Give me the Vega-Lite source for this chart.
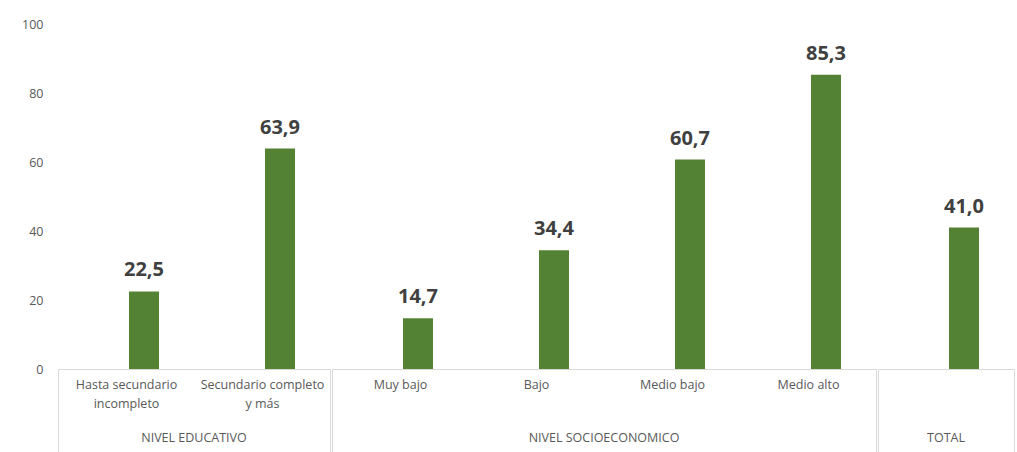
{
  "$schema": "https://vega.github.io/schema/vega-lite/v6.json",
  "background": "white",
  "padding": {"left": 17, "top": 18, "right": 0, "bottom": 0},
  "data": {
    "values": [
      {"grupo": "NIVEL EDUCATIVO", "cat": "Hasta secundario incompleto", "valor": 22.5},
      {"grupo": "NIVEL EDUCATIVO", "cat": "Secundario completo y más", "valor": 63.9},
      {"grupo": "NIVEL SOCIOECONOMICO", "cat": "Muy bajo", "valor": 14.7},
      {"grupo": "NIVEL SOCIOECONOMICO", "cat": "Bajo", "valor": 34.4},
      {"grupo": "NIVEL SOCIOECONOMICO", "cat": "Medio bajo", "valor": 60.7},
      {"grupo": "NIVEL SOCIOECONOMICO", "cat": "Medio alto", "valor": 85.3},
      {"grupo": "TOTAL", "cat": "TOTAL", "valor": 41.0}
    ]
  },
  "facet": {
    "column": {
      "field": "grupo",
      "type": "nominal",
      "sort": ["NIVEL EDUCATIVO", "NIVEL SOCIOECONOMICO", "TOTAL"],
      "title": null,
      "header": {
        "labelOrient": "bottom",
        "labelPadding": -23,
        "labelFont": "Open Sans",
        "labelFontSize": 12.5,
        "labelColor": "#595959"
      }
    }
  },
  "spacing": 0,
  "resolve": {"scale": {"x": "independent"}},
  "spec": {
    "width": {"step": 136},
    "height": 345,
    "encoding": {
      "x": {
        "field": "cat",
        "type": "nominal",
        "sort": null,
        "scale": {"paddingInner": 0, "paddingOuter": 0},
        "axis": {
          "title": null,
          "labelAngle": 0,
          "labelFont": "Open Sans",
          "labelFontSize": 12.5,
          "labelColor": "#595959",
          "labelLineHeight": 19,
          "labelLimit": 300,
          "labelPadding": -76,
          "labelExpr": "datum.value == 'Hasta secundario incompleto' ? ['Hasta secundario', 'incompleto'] : datum.value == 'Secundario completo y más' ? ['Secundario completo', 'y más'] : datum.value == 'TOTAL' ? '' : datum.value",
          "domainColor": "#d9d9d9",
          "tickColor": "#d9d9d9",
          "tickBand": "extent",
          "tickSize": 85,
          "tickOpacity": {
            "condition": {"test": "datum.index < 0 || datum.value == 'Secundario completo y más' || datum.value == 'Medio alto' || datum.value == 'TOTAL'", "value": 1},
            "value": 0
          }
        }
      },
      "y": {
        "field": "valor",
        "type": "quantitative",
        "scale": {"domain": [0, 100]},
        "axis": {
          "title": null,
          "values": [0, 20, 40, 60, 80, 100],
          "grid": false,
          "domain": false,
          "ticks": false,
          "labelPadding": 14,
          "labelFont": "Open Sans",
          "labelFontSize": 12.5,
          "labelColor": "#595959",
          "minExtent": 40,
          "maxExtent": 40
        }
      }
    },
    "layer": [
      {
        "mark": {"type": "bar", "width": 30, "xOffset": 18, "color": "#548235"}
      },
      {
        "mark": {
          "type": "text",
          "xOffset": 18,
          "dy": -15,
          "baseline": "alphabetic",
          "font": "Open Sans",
          "fontSize": 20,
          "fontWeight": "bold",
          "color": "#404040"
        },
        "encoding": {
          "text": {"field": "valor", "type": "quantitative", "format": ".1f"}
        }
      }
    ]
  },
  "config": {
    "view": {"stroke": null},
    "locale": {
      "number": {"decimal": ",", "thousands": ".", "grouping": [3], "currency": ["", ""]}
    }
  }
}
